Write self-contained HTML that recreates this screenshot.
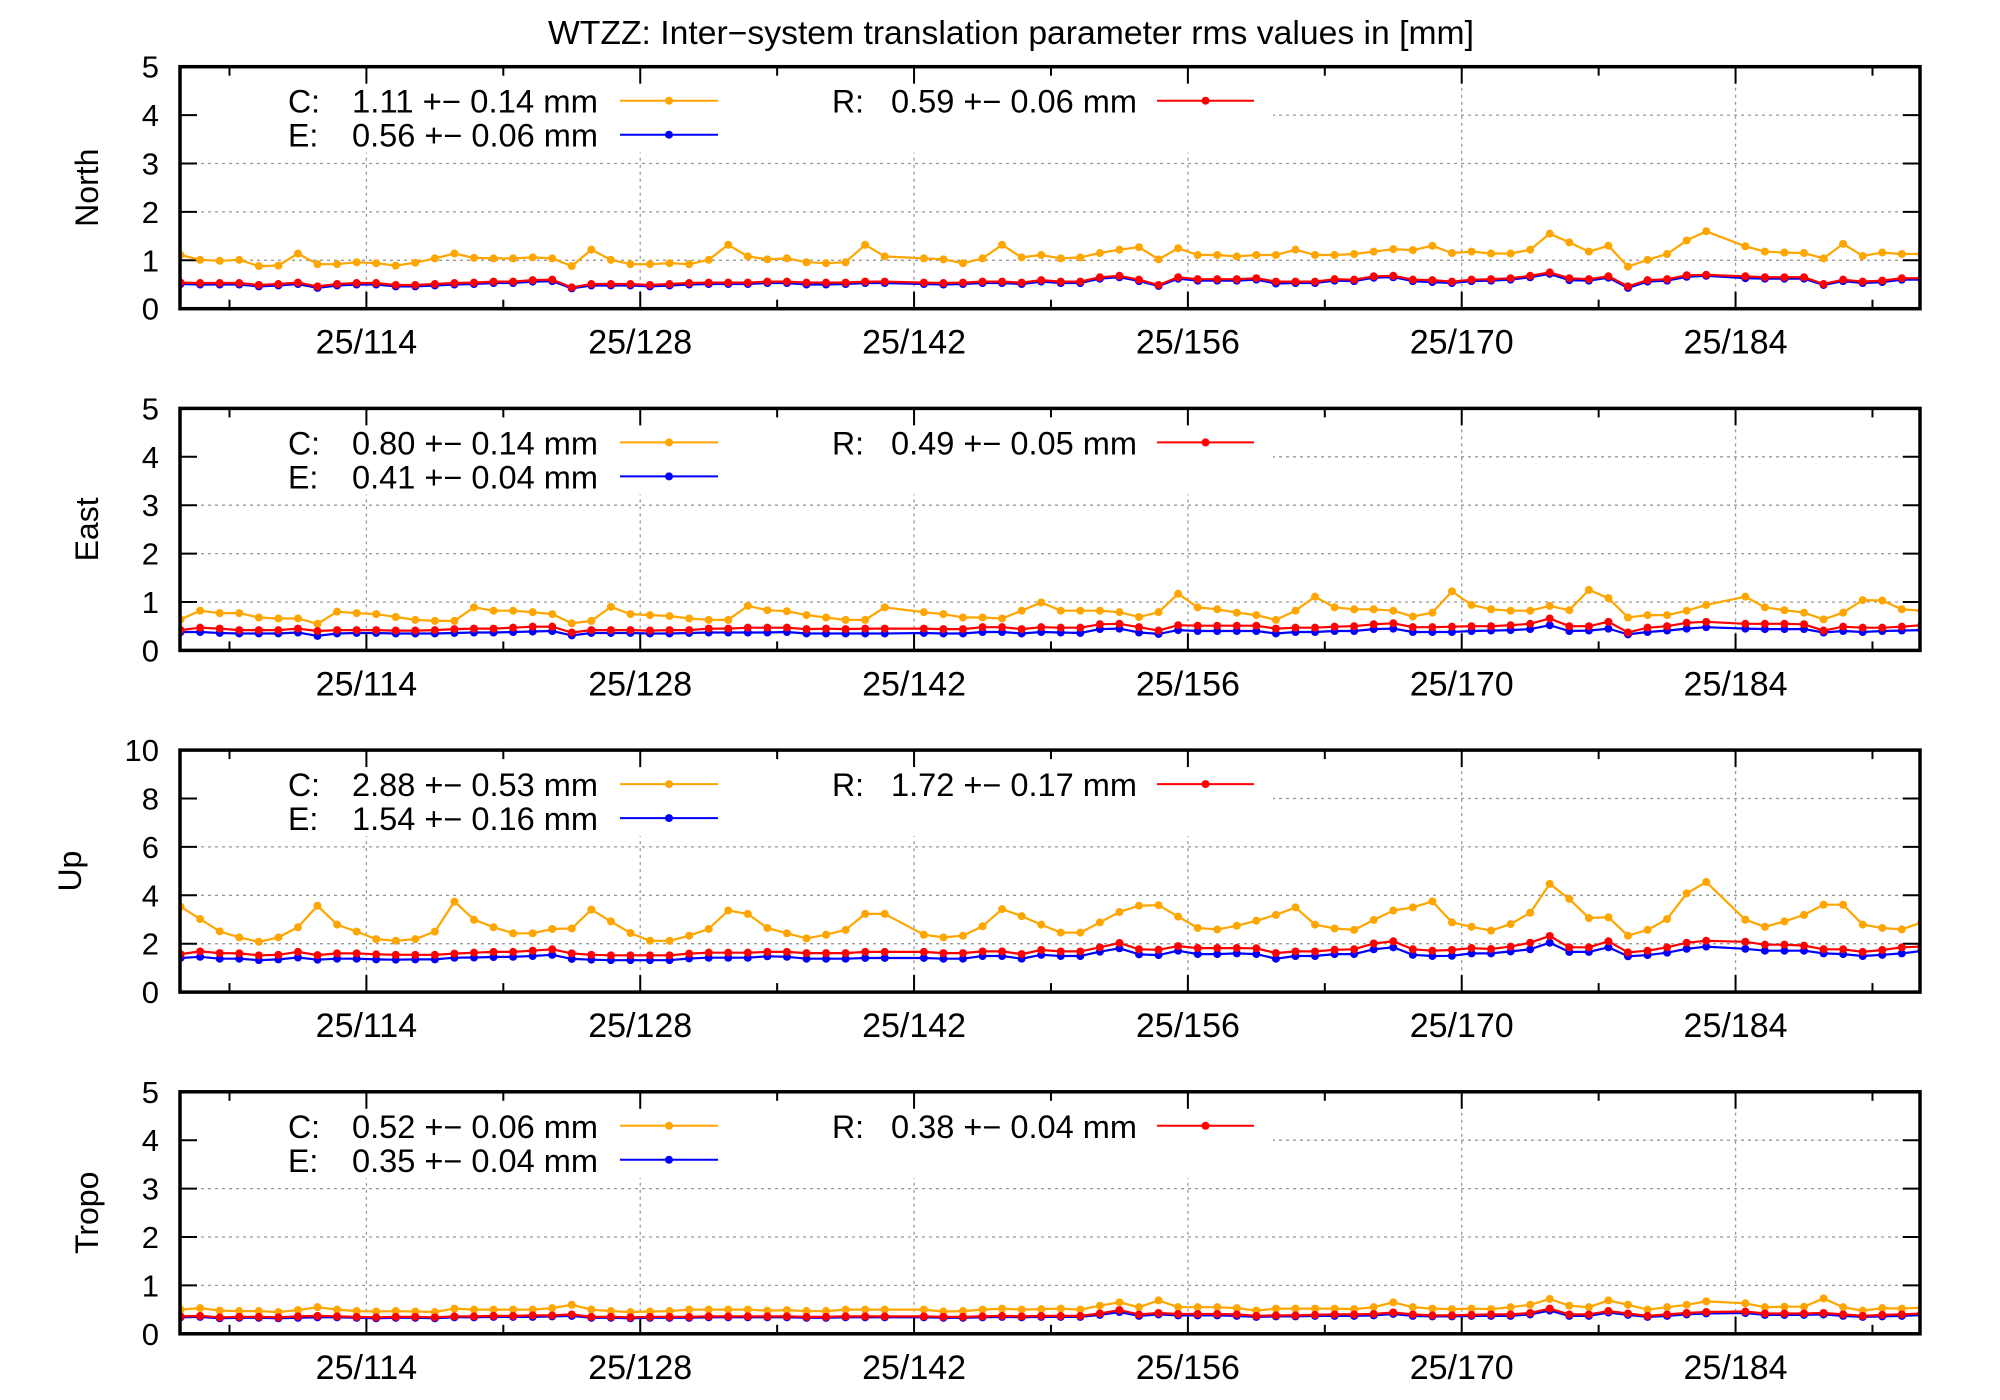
<!DOCTYPE html>
<html><head><meta charset="utf-8"><title>WTZZ inter-system translation rms</title>
<style>
html,body{margin:0;padding:0;background:#fff;}
svg{display:block;font-family:"Liberation Sans",sans-serif;}
</style></head>
<body>
<svg id="chart" width="2000" height="1400" viewBox="0 0 2000 1400" xmlns="http://www.w3.org/2000/svg">
<rect x="0" y="0" width="2000" height="1400" fill="#fff"/>
<text x="1011" y="44" font-size="33" text-anchor="middle" textLength="926" lengthAdjust="spacingAndGlyphs">WTZZ: Inter−system translation parameter rms values in [mm]</text>
</svg>
<script>
// ---- data ----
const dayStart = 104.5; // first sample day (daily samples)
const panelNames = ["North","East","Up","Tropo"];
const yMax = [5,5,10,5];
const yStep = [1,1,2,1];
const xTickDays = [114,128,142,156,170,184];
const xTickLabels = ["25/114","25/128","25/142","25/156","25/170","25/184"];
const xMinorDays = [107,121,135,149,163,177,191];
const legendC = ["1.11 +− 0.14 mm","0.80 +− 0.14 mm","2.88 +− 0.53 mm","0.52 +− 0.06 mm"];
const legendE = ["0.56 +− 0.06 mm","0.41 +− 0.04 mm","1.54 +− 0.16 mm","0.35 +− 0.04 mm"];
const legendR = ["0.59 +− 0.06 mm","0.49 +− 0.05 mm","1.72 +− 0.17 mm","0.38 +− 0.04 mm"];

const northC = [1.11,1.01,0.99,1.01,0.88,0.89,1.14,0.92,0.92,0.96,0.94,0.89,0.95,1.04,1.14,1.05,1.04,1.04,1.06,1.04,0.88,1.22,1.01,0.92,0.92,0.94,0.92,1.01,1.32,1.08,
1.02,1.04,0.96,0.94,0.96,1.32,1.08,null,1.04,1.02,0.94,1.04,1.32,1.06,1.11,1.04,1.06,1.15,1.22,1.27,1.02,1.25,1.11,1.11,1.08,1.11,1.11,1.22,1.11,1.11,
1.13,1.18,1.23,1.21,1.30,1.15,1.18,1.14,1.14,1.22,1.55,1.37,1.18,1.30,0.87,1.01,1.13,1.41,1.60,null,1.29,1.18,1.16,1.15,1.04,1.34,1.09,1.16,1.13,1.13];
const northE = [0.51,0.50,0.50,0.50,0.46,0.48,0.51,0.43,0.48,0.50,0.50,0.46,0.46,0.48,0.50,0.51,0.53,0.53,0.56,0.57,0.42,0.48,0.48,0.48,0.46,0.48,0.50,0.51,0.51,0.51,
0.53,0.53,0.50,0.50,0.51,0.53,0.53,null,0.51,0.50,0.51,0.53,0.53,0.51,0.56,0.53,0.53,0.62,0.65,0.57,0.47,0.62,0.58,0.58,0.58,0.60,0.52,0.53,0.53,0.58,
0.57,0.64,0.65,0.57,0.55,0.53,0.57,0.58,0.60,0.65,0.72,0.59,0.58,0.64,0.43,0.56,0.58,0.66,0.68,null,0.63,0.62,0.62,0.62,0.49,0.57,0.53,0.55,0.60,0.60];
const northR = [0.54,0.53,0.53,0.53,0.49,0.51,0.54,0.46,0.51,0.53,0.53,0.49,0.49,0.51,0.53,0.54,0.56,0.56,0.59,0.60,0.44,0.51,0.51,0.51,0.49,0.51,0.53,0.54,0.54,0.54,
0.56,0.56,0.54,0.54,0.54,0.56,0.56,null,0.54,0.53,0.54,0.56,0.56,0.54,0.59,0.56,0.56,0.65,0.68,0.60,0.49,0.65,0.61,0.61,0.61,0.63,0.56,0.56,0.56,0.61,
0.60,0.67,0.68,0.60,0.59,0.56,0.60,0.61,0.63,0.68,0.75,0.63,0.61,0.67,0.46,0.59,0.61,0.69,0.70,null,0.67,0.65,0.65,0.65,0.51,0.60,0.56,0.58,0.63,0.63];

const eastC = [0.64,0.82,0.77,0.77,0.68,0.66,0.66,0.55,0.80,0.77,0.75,0.69,0.63,0.61,0.61,0.89,0.82,0.82,0.79,0.75,0.56,0.61,0.90,0.75,0.73,0.71,0.66,0.63,0.63,0.92,
0.83,0.81,0.73,0.68,0.63,0.63,0.89,null,0.79,0.75,0.68,0.68,0.66,0.82,0.99,0.82,0.82,0.82,0.79,0.69,0.79,1.17,0.89,0.85,0.78,0.73,0.63,0.82,1.11,0.89,
0.85,0.85,0.82,0.70,0.78,1.22,0.94,0.85,0.82,0.82,0.92,0.83,1.25,1.08,0.68,0.73,0.73,0.82,0.94,null,1.11,0.89,0.83,0.78,0.64,0.78,1.04,1.03,0.85,0.82];
const eastE = [0.38,0.38,0.36,0.35,0.35,0.35,0.37,0.30,0.35,0.36,0.36,0.35,0.35,0.35,0.36,0.37,0.37,0.38,0.39,0.40,0.31,0.36,0.36,0.36,0.35,0.35,0.36,0.37,0.37,0.37,
0.37,0.38,0.35,0.35,0.35,0.35,0.35,null,0.36,0.35,0.35,0.38,0.38,0.35,0.38,0.37,0.36,0.44,0.45,0.37,0.34,0.42,0.40,0.40,0.40,0.40,0.35,0.38,0.38,0.40,
0.40,0.44,0.45,0.38,0.38,0.38,0.40,0.41,0.42,0.44,0.52,0.40,0.41,0.45,0.33,0.38,0.41,0.45,0.48,null,0.45,0.44,0.44,0.44,0.37,0.40,0.38,0.40,0.41,0.42];
const eastR = [0.42,0.47,0.45,0.42,0.42,0.42,0.45,0.40,0.42,0.42,0.42,0.41,0.41,0.42,0.44,0.45,0.45,0.47,0.49,0.49,0.37,0.42,0.42,0.42,0.41,0.42,0.42,0.45,0.45,0.47,
0.47,0.47,0.44,0.45,0.44,0.45,0.45,null,0.45,0.44,0.44,0.48,0.48,0.44,0.48,0.47,0.47,0.54,0.55,0.48,0.41,0.52,0.51,0.51,0.51,0.51,0.45,0.47,0.47,0.49,
0.50,0.54,0.56,0.48,0.48,0.49,0.50,0.50,0.52,0.55,0.66,0.50,0.50,0.59,0.37,0.47,0.50,0.57,0.59,null,0.55,0.55,0.55,0.54,0.41,0.49,0.47,0.47,0.49,0.52];

const upC = [3.53,3.02,2.51,2.26,2.08,2.26,2.68,3.57,2.79,2.50,2.19,2.12,2.19,2.50,3.74,2.99,2.68,2.43,2.43,2.61,2.63,3.41,2.92,2.44,2.12,2.12,2.33,2.61,3.37,3.23,
2.65,2.43,2.22,2.37,2.57,3.23,3.23,null,2.37,2.26,2.33,2.72,3.43,3.14,2.79,2.46,2.46,2.88,3.31,3.57,3.59,3.12,2.65,2.59,2.74,2.95,3.19,3.50,2.79,2.63,
2.57,2.98,3.37,3.50,3.75,2.88,2.70,2.54,2.81,3.28,4.47,3.85,3.06,3.09,2.33,2.57,3.02,4.08,4.55,null,2.99,2.70,2.92,3.19,3.61,3.61,2.79,2.65,2.59,2.88];
const upE = [1.41,1.46,1.38,1.38,1.32,1.35,1.43,1.34,1.38,1.38,1.35,1.34,1.35,1.35,1.42,1.43,1.45,1.46,1.49,1.54,1.37,1.34,1.32,1.32,1.32,1.32,1.39,1.42,1.42,1.42,
1.48,1.46,1.38,1.38,1.38,1.41,1.41,null,1.41,1.38,1.38,1.49,1.49,1.38,1.54,1.49,1.49,1.67,1.81,1.56,1.53,1.71,1.57,1.57,1.60,1.57,1.38,1.49,1.49,1.57,
1.57,1.77,1.85,1.54,1.49,1.50,1.60,1.60,1.68,1.77,2.04,1.66,1.66,1.85,1.48,1.53,1.63,1.79,1.88,null,1.79,1.71,1.71,1.71,1.60,1.57,1.49,1.54,1.60,1.70];
const upR = [1.57,1.68,1.61,1.60,1.52,1.54,1.66,1.53,1.60,1.60,1.56,1.54,1.54,1.54,1.59,1.63,1.66,1.66,1.71,1.77,1.60,1.54,1.52,1.52,1.52,1.52,1.59,1.63,1.63,1.63,
1.66,1.66,1.61,1.61,1.61,1.66,1.66,null,1.66,1.61,1.61,1.68,1.68,1.57,1.74,1.68,1.68,1.85,2.03,1.77,1.75,1.90,1.82,1.82,1.82,1.81,1.61,1.68,1.68,1.75,
1.77,2.01,2.10,1.77,1.71,1.74,1.82,1.78,1.88,2.04,2.32,1.85,1.85,2.10,1.64,1.71,1.85,2.04,2.12,null,2.08,1.96,1.96,1.92,1.77,1.77,1.66,1.74,1.85,1.88];

const tropoC = [0.50,0.53,0.48,0.47,0.47,0.45,0.49,0.55,0.50,0.47,0.46,0.47,0.46,0.45,0.52,0.50,0.50,0.50,0.50,0.53,
0.60,0.50,0.47,0.45,0.46,0.47,0.50,0.50,0.50,0.50,0.48,0.49,0.47,0.47,0.50,0.50,0.50,null,0.50,0.46,
0.47,0.50,0.52,0.50,0.51,0.52,0.50,0.58,0.65,0.55,0.69,0.55,0.55,0.55,0.53,0.48,0.52,0.52,0.52,0.52,
0.51,0.55,0.65,0.55,0.52,0.51,0.52,0.51,0.55,0.60,0.72,0.58,0.55,0.69,0.60,0.50,0.55,0.60,0.67,null,
0.63,0.55,0.56,0.56,0.73,0.55,0.48,0.53,0.52,0.54];
const tropoE = [0.34,0.35,0.32,0.33,0.33,0.32,0.33,0.34,0.34,0.33,0.32,0.33,0.33,0.32,0.34,0.34,0.35,0.35,0.35,0.36,
0.37,0.33,0.33,0.32,0.33,0.33,0.33,0.34,0.34,0.34,0.34,0.34,0.33,0.33,0.34,0.34,0.34,null,0.34,0.33,
0.33,0.34,0.35,0.34,0.35,0.35,0.35,0.39,0.45,0.37,0.40,0.38,0.38,0.38,0.37,0.35,0.36,0.36,0.37,0.37,
0.37,0.38,0.41,0.37,0.36,0.36,0.37,0.37,0.37,0.40,0.48,0.37,0.37,0.44,0.39,0.35,0.37,0.40,0.42,null,
0.43,0.39,0.39,0.39,0.40,0.37,0.35,0.36,0.37,0.39];
const tropoR = [0.36,0.37,0.34,0.35,0.35,0.34,0.36,0.37,0.36,0.35,0.34,0.35,0.35,0.34,0.36,0.36,0.37,0.37,0.38,0.38,
0.40,0.35,0.35,0.34,0.35,0.35,0.35,0.36,0.36,0.36,0.36,0.36,0.35,0.35,0.36,0.36,0.36,null,0.36,0.35,
0.35,0.36,0.37,0.36,0.37,0.37,0.37,0.42,0.49,0.40,0.43,0.41,0.41,0.41,0.40,0.37,0.38,0.38,0.39,0.40,
0.40,0.41,0.44,0.40,0.38,0.38,0.39,0.40,0.40,0.43,0.52,0.40,0.40,0.47,0.42,0.37,0.40,0.43,0.45,null,
0.46,0.42,0.42,0.42,0.43,0.40,0.37,0.39,0.40,0.42];

const seriesC = [northC,eastC,upC,tropoC];
const seriesE = [northE,eastE,upE,tropoE];
const seriesR = [northR,eastR,upR,tropoR];

// ---- layout ----
const NS = "http://www.w3.org/2000/svg";
const svg = document.getElementById("chart");
const PL = 180, PR = 1920, PH = 242, TOP0 = 66.7, GAP = 341.7;
const D0 = 104.47, D1 = 193.43;
function xScale(d){ return PL + (d - D0) / (D1 - D0) * (PR - PL); }
function mk(tag, attrs, parent){
  const e = document.createElementNS(NS, tag);
  for (const k in attrs) e.setAttribute(k, attrs[k]);
  (parent || svg).appendChild(e);
  return e;
}
const colors = {C:"#FFA500", E:"#0000FF", R:"#FF0000"};

panelNames.forEach((name, p) => {
  const top = TOP0 + GAP * p, bot = top + PH;
  const yScale = v => bot - v / yMax[p] * PH;
  const g = mk("g", {});
  
  

  for (let v = yStep[p]; v < yMax[p]; v += yStep[p]) {
    const gl = mk("line", {x1:PL, x2:PR, y1:yScale(v), y2:yScale(v), stroke:"#999", "stroke-width":1.3, "stroke-dasharray":"3,4"}, g);
    
    
  }
  xTickDays.forEach(d => {
    const gl = mk("line", {x1:xScale(d), x2:xScale(d), y1:top, y2:bot, stroke:"#999", "stroke-width":1.3, "stroke-dasharray":"3,4"}, g);
    
    
  });

  const lb = mk("rect", {x:PL+2, y:top+2, width:1271-PL, height:84, fill:"#fff"}, g);
  
  

  for (let v = 0; v <= yMax[p]; v += yStep[p]) {
    const y = yScale(v);
    const t1 = mk("line", {x1:PL, x2:PL+17, y1:y, y2:y, stroke:"#000", "stroke-width":2}, g);
    
    
    const t2 = mk("line", {x1:PR-17, x2:PR, y1:y, y2:y, stroke:"#000", "stroke-width":2}, g);
    
    
    const tl = mk("text", {x:159, y:y+11, "font-size":31, "text-anchor":"end"}, g);
    tl.textContent = String(v);
    
    
  }
  xTickDays.forEach((d, i) => {
    const x = xScale(d);
    const a = mk("line", {x1:x, x2:x, y1:bot, y2:bot-17, stroke:"#000", "stroke-width":2}, g);
    
    
    const b = mk("line", {x1:x, x2:x, y1:top, y2:top+17, stroke:"#000", "stroke-width":2}, g);
    
    
    const tl = mk("text", {x:x, y:bot+45, "font-size":34, "text-anchor":"middle"}, g);
    tl.textContent = xTickLabels[i];
    
    
  });
  xMinorDays.forEach(d => {
    const x = xScale(d);
    const a = mk("line", {x1:x, x2:x, y1:bot, y2:bot-9, stroke:"#000", "stroke-width":2}, g);
    
    
    const b = mk("line", {x1:x, x2:x, y1:top, y2:top+9, stroke:"#000", "stroke-width":2}, g);
    
    
  });

  const yt = mk("text", {x:0, y:0, "font-size":32, "text-anchor":"middle", transform:`translate(${p===2?81:98},${top+PH/2}) rotate(-90)`}, g);
  yt.textContent = name;
  
  

  const clip = mk("clipPath", {id:"clip"+p}, g);
  mk("rect", {x:PL, y:top, width:PR-PL, height:PH}, clip);
  [["C", seriesC[p]], ["E", seriesE[p]], ["R", seriesR[p]]].forEach(([key, arr]) => {
    const sg = mk("g", {"clip-path":`url(#clip${p})`}, g);
    
    
    const pts = [];
    arr.forEach((v, i) => { if (v !== null) pts.push([xScale(dayStart + i), yScale(v)]); });
    const pl = mk("polyline", {points: pts.map(q => q[0].toFixed(1)+","+q[1].toFixed(1)).join(" "), fill:"none", stroke:colors[key], "stroke-width":2.2}, sg);
    
    
    pts.forEach(q => {
      const c = mk("circle", {cx:q[0], cy:q[1], r:4, fill:colors[key]}, sg);
      
      
    });
  });

  const legs = [["C:", legendC[p], "C", 288, 598, 620, 718, top+34],
                ["E:", legendE[p], "E", 288, 598, 620, 718, top+68],
                ["R:", legendR[p], "R", 832, 1137, 1157, 1254, top+34]];
  legs.forEach(([lab, val, key, lx, vx, l1, l2, ly]) => {
    const lg = mk("g", {}, g);
    
    
    const t1 = mk("text", {x:lx, y:ly+12, "font-size":32}, lg);
    t1.textContent = lab;
    
    
    const t2 = mk("text", {x:vx-246, y:ly+12, "font-size":32, textLength:246, lengthAdjust:"spacingAndGlyphs"}, lg);
    t2.textContent = val;
    
    
    const ln = mk("line", {x1:l1, x2:l2, y1:ly, y2:ly, stroke:colors[key], "stroke-width":2}, lg);
    
    
    const mc = mk("circle", {cx:(l1+l2)/2, cy:ly, r:4, fill:colors[key]}, lg);
    
    
  });

  const fr = mk("rect", {x:PL, y:top, width:PR-PL, height:PH, fill:"none", stroke:"#000", "stroke-width":3.5}, g);
  
  
});
</script>
</body></html>
